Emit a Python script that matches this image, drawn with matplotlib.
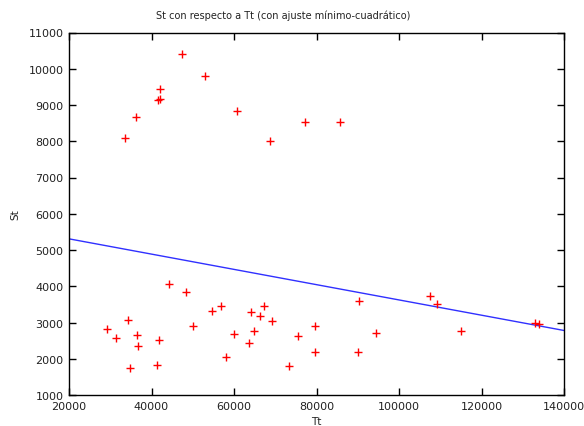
import numpy as np
import matplotlib
matplotlib.use('Agg')
import matplotlib.pyplot as plt

# Tt vs St samples
tt = [47300, 53000, 42000, 41650, 42060, 36200, 33500, 60650, 68700, 77300,
      85700, 29300, 31300, 34400, 36550, 36800, 34800, 41250, 41800, 44250,
      48350, 50000, 54600, 56750, 58050, 60100, 63700, 64200, 64850, 66250,
      67250, 69200, 73400, 75600, 79700, 79550, 90300, 90050, 94350, 107450,
      109300, 115100, 133050, 133850]
st = [10400, 9800, 9450, 9130, 9160, 8670, 8100, 8830, 8000, 8530,
      8530, 2810, 2580, 3080, 2660, 2340, 1740, 1840, 2510, 4060,
      3830, 2910, 3310, 3460, 2060, 2690, 2440, 3290, 2760, 3180,
      3460, 3050, 1790, 2630, 2890, 2190, 3580, 2190, 2710, 3730,
      3510, 2770, 3000, 2960]

xticks = [20000, 40000, 60000, 80000, 100000, 120000, 140000]
yticks = list(range(1000, 11001, 1000))

plt.rcParams['font.family'] = ['DejaVu Sans']
plt.rcParams['font.size'] = 8

fig = plt.figure(figsize=(5.84, 4.27), dpi=100)
ax = fig.add_axes([69/584, 1 - 396/427, (564 - 69)/584, (396 - 33.5)/427])

# least squares fit line
coef = np.polyfit(tt, st, 1)
xs = np.array([xticks[0], xticks[-1]])
ax.plot(xs, np.polyval(coef, xs), color='#3030ff', lw=1, zorder=2)

ax.plot(tt, st, linestyle='none', marker='+', color='red', ms=6, mew=1, zorder=3)

ax.set_xlim(xticks[0], xticks[-1])
ax.set_ylim(yticks[0], yticks[-1])
ax.set_xticks(xticks)
ax.set_yticks(yticks)
ax.tick_params(direction='in', top=True, right=True, length=5, width=1,
               labelsize=8, labelcolor='#222222', pad=4)
for sp in ax.spines.values():
    sp.set_linewidth(1)

# title sits centred on the canvas, not on the axes
fig.text(283.5/584, 1 - 16/427, 'St con respecto a Tt (con ajuste mínimo-cuadrático)',
         fontsize=7, color='#222222', ha='center', va='center')
ax.set_xlabel('Tt', labelpad=4, fontsize=7.5, color='#222222')
ax.set_ylabel('St', labelpad=6, fontsize=7.5, color='#222222')

fig.savefig('out.png', dpi=100)
